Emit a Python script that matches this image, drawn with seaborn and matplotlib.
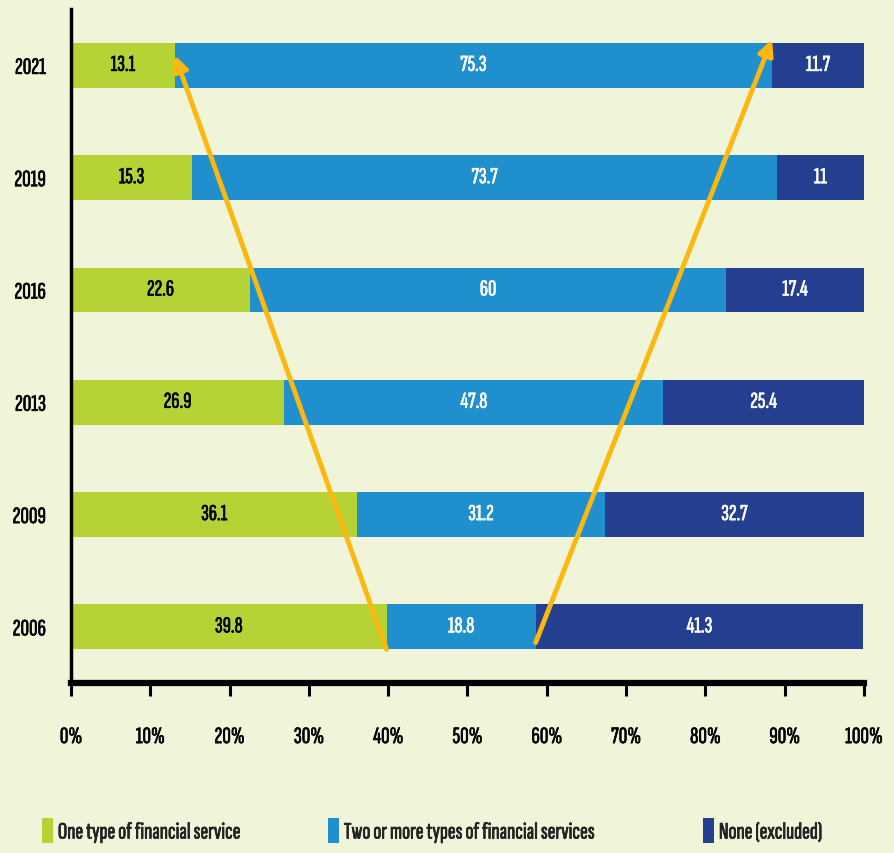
import numpy as np
import pandas as pd
import matplotlib
matplotlib.use("Agg")
import matplotlib.pyplot as plt
import matplotlib.patheffects as pe
from matplotlib.patches import Patch
import seaborn as sns

years = ["2021", "2019", "2016", "2013", "2009", "2006"]
one_type = [13.1, 15.3, 22.6, 26.9, 36.1, 39.8]
two_or_more = [75.3, 73.7, 60.0, 47.8, 31.2, 18.8]
none_excluded = [11.7, 11.0, 17.4, 25.4, 32.7, 41.3]
value_labels_one = ["13.1", "15.3", "22.6", "26.9", "36.1", "39.8"]
value_labels_two = ["75.3", "73.7", "60", "47.8", "31.2", "18.8"]
value_labels_none = ["11.7", "11", "17.4", "25.4", "32.7", "41.3"]
series_names = ["One type of financial service",
                "Two or more types of financial services",
                "None (excluded)"]
xtick_values = [0, 10, 20, 30, 40, 50, 60, 70, 80, 90, 100]

BG = "#f0f4d9"
GREEN = "#b5d334"
BLUE = "#1f8fce"
NAVY = "#243f8f"
ARROW = "#fbb80f"

sns.set_style("ticks")
plt.rcParams["font.family"] = ["Sofia Sans Extra Condensed",
                               "Pathway Gothic One", "DejaVu Sans"]


def heavy(color):
    # thicken the narrow face slightly
    return [pe.withStroke(linewidth=0.45, foreground=color)]


df = pd.DataFrame({
    "year": years,
    "one": one_type,
    "two": two_or_more,
    "none": none_excluded,
})
df["c1"] = df["one"]
df["c2"] = df["one"] + df["two"]
df["c3"] = df["c2"] + df["none"]

fig = plt.figure(figsize=(8.95, 8.54), dpi=100, facecolor=BG)
ax = fig.add_axes([0.0793, 0.199, 0.886, 0.789])
ax.set_facecolor(BG)

bar_w = 0.40
# stacked bars drawn as overlapping cumulative totals
for col, color in [("c3", NAVY), ("c2", BLUE), ("c1", GREEN)]:
    sns.barplot(data=df, x=col, y="year", order=years, orient="h",
                color=color, width=bar_w, saturation=1, ax=ax,
                edgecolor="none", linewidth=0)

txt_kw = dict(ha="center", va="center", fontsize=16.5)
for i in range(len(years)):
    ax.text(df["one"][i] / 2, i, value_labels_one[i], color="black",
            path_effects=heavy("black"), **txt_kw)
    ax.text(df["c1"][i] + df["two"][i] / 2, i, value_labels_two[i],
            color="white", path_effects=heavy("white"), **txt_kw)
    right = min(df["c3"][i], 100)
    ax.text((df["c2"][i] + right) / 2, i, value_labels_none[i],
            color="white", path_effects=heavy("white"), **txt_kw)

# trend arrows from 2006 to 2021
i06 = years.index("2006")
i21 = years.index("2021")
arrow_props = dict(arrowstyle="-|>", color=ARROW, lw=3.5, mutation_scale=22,
                   shrinkA=0, shrinkB=0)
ax.annotate("", xy=(df["c1"][i21], i21 - 0.09),
            xytext=(df["c1"][i06], i06 + 0.2), arrowprops=arrow_props)
ax.annotate("", xy=(df["c2"][i21], i21 - 0.23),
            xytext=(df["c2"][i06], i06 + 0.14), arrowprops=arrow_props)

ax.set_xlim(0, 100)
ax.set_ylim(len(years) - 0.5, -0.5)
ax.set_xlabel("")
ax.set_ylabel("")
ax.set_xticks(xtick_values)
ax.set_xticklabels([f"{v}%" for v in xtick_values])

for s in ["top", "right"]:
    ax.spines[s].set_visible(False)
ax.spines["left"].set_linewidth(2.5)
ax.spines["left"].set_color("black")
ax.spines["bottom"].set_linewidth(4.5)
ax.spines["bottom"].set_color("black")
ax.tick_params(axis="x", direction="out", length=9, width=2.2, pad=22,
               labelsize=17, colors="black")
ax.tick_params(axis="y", length=0, pad=18, labelsize=17, colors="black")
for lab in ax.get_xticklabels() + ax.get_yticklabels():
    lab.set_path_effects(heavy("black"))

# legend entries placed individually along the bottom
legend_x = [42, 328, 703]
for name, color, x in zip(series_names, (GREEN, BLUE, NAVY), legend_x):
    leg = fig.legend([Patch(facecolor=color, edgecolor="none")], [name],
                     loc="center left", bbox_to_anchor=(x / 895, 1 - 832 / 854),
                     frameon=False, borderpad=0, borderaxespad=0,
                     handlelength=0.47, handleheight=1.2, handletextpad=0.2,
                     prop=dict(size=17))
    for t in leg.get_texts():
        t.set_path_effects(heavy("black"))

fig.savefig("out.png", dpi=100, facecolor=BG)
